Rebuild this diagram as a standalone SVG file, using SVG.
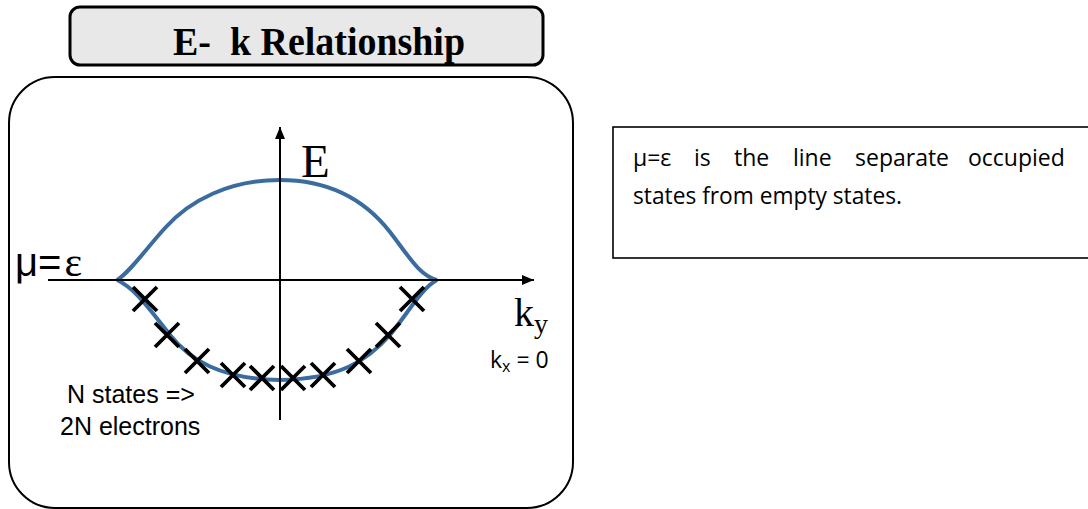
<svg xmlns="http://www.w3.org/2000/svg" xmlns:xlink="http://www.w3.org/1999/xlink" width="1088" height="509" viewBox="0 0 1088 509">
<style>
.box{fill:none;stroke:#000;stroke-width:2}
.axis{stroke:#000;stroke-width:2;fill:none}
.curve{fill:none;stroke:#3a6c9f;stroke-width:4;stroke-linejoin:round}
.cross{stroke:#000;stroke-width:3.8;fill:none}
.sans{font-family:"Liberation Sans",Arial,sans-serif;fill:#000}
.serif{font-family:"Liberation Serif","Times New Roman",serif;fill:#000}
.note{font-family:"Open Sans","Liberation Sans",sans-serif;font-size:23px;fill:#000}
</style>
<defs>
<marker id="arr" viewBox="0 0 12 10" refX="12" refY="5" markerWidth="12" markerHeight="10" markerUnits="userSpaceOnUse" orient="auto">
<path d="M0,0 L12,5 L0,10 Z" fill="#000"/>
</marker>
<path id="x" d="M-12,-12 L12,12 M12,-12 L-12,12"/>
</defs>
<rect width="1088" height="509" fill="#fff"/>

<g id="title">
<rect x="70" y="7" width="473" height="58" rx="10" fill="#e8e8e8" stroke="#000" stroke-width="3"/>
<text class="serif" x="173" y="55" font-size="40" font-weight="bold" textLength="292" lengthAdjust="spacingAndGlyphs" xml:space="preserve">E-  k Relationship</text>
</g>

<g id="panel">
<rect class="box" x="9" y="77" width="564" height="431" rx="46"/>
</g>

<g id="note">
<rect x="613" y="127" width="480" height="131" fill="none" stroke="#000" stroke-width="1.6"/>
<text class="note" y="166"><tspan x="633">μ=ε</tspan><tspan x="694">is</tspan><tspan x="734">the</tspan><tspan x="793">line</tspan><tspan x="855">separate</tspan><tspan x="968">occupied</tspan></text>
<text class="note" x="633" y="204" textLength="269" lengthAdjust="spacingAndGlyphs">states from empty states.</text>
</g>

<g id="curves">
<path class="curve" d="M117,280 C130,272 145,250 165,228 C190,200 230,180 280,180 C330,180 365,200 390,232 C410,258 420,276 437,280"/>
<path class="curve" d="M117,280 C135,288 150,310 170,335 C190,360 220,379 280,380 C340,379 368,360 390,335 C410,310 422,288 437,280"/>
</g>

<g id="connectors">
<line class="axis" x1="48" y1="280" x2="534" y2="280" marker-end="url(#arr)"/>
<line class="axis" x1="280" y1="420" x2="280" y2="127" marker-end="url(#arr)"/>
</g>

<g id="states" class="cross">
<use xlink:href="#x" x="145" y="299"/>
<use xlink:href="#x" x="167" y="335"/>
<use xlink:href="#x" x="197" y="361"/>
<use xlink:href="#x" x="233" y="375"/>
<use xlink:href="#x" x="262" y="378"/>
<use xlink:href="#x" x="293" y="378"/>
<use xlink:href="#x" x="323" y="375"/>
<use xlink:href="#x" x="359" y="361"/>
<use xlink:href="#x" x="388" y="335"/>
<use xlink:href="#x" x="412" y="299"/>
</g>

<g id="labels">
<text class="serif" x="301" y="177" font-size="47">E</text>
<text x="15" y="276"><tspan class="sans" font-size="40">μ=</tspan><tspan class="serif" font-size="42" dx="3">ε</tspan></text>
<text class="serif" x="514" y="326" font-size="40">k<tspan font-size="28" dy="7">y</tspan></text>
<text class="note" x="490" y="368" font-size="22">k<tspan font-size="16" dy="4">x</tspan><tspan dy="-4"> = 0</tspan></text>
<text class="sans" x="67" y="403" font-size="25">N states =&gt;</text>
<text class="sans" x="60" y="435" font-size="25">2N electrons</text>
</g>
</svg>
